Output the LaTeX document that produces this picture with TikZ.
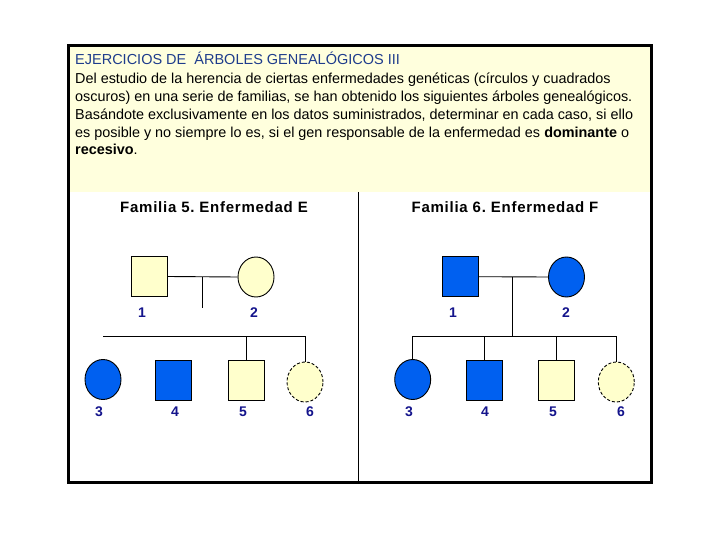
\documentclass[tikz,border=0pt]{standalone}
\usepackage{fontspec}
\setmainfont{Liberation Sans}
\usetikzlibrary{shapes.geometric}
\definecolor{hdrbg}{RGB}{255,255,221}
\definecolor{pale}{RGB}{255,255,204}
\definecolor{sick}{RGB}{0,96,240}
\definecolor{navy}{RGB}{20,20,140}
\definecolor{ttl}{RGB}{30,60,140}
\frenchspacing
\begin{document}
\begin{tikzpicture}[x=1pt,y=-1pt,
  male/.style={draw=black,line width=0.9pt,rectangle,minimum width=36pt,minimum height=40pt,inner sep=0pt},
  female/.style={draw=black,line width=0.9pt,ellipse,minimum width=36pt,minimum height=40pt,inner sep=0pt},
  carrier/.style={female,densely dashed},
  aff/.style={fill=sick},
  unaff/.style={fill=pale},
  num/.style={font=\fontsize{14}{16}\selectfont\bfseries,text=navy,anchor=base,inner sep=0pt},
  txt/.style={font=\fontsize{14.4}{16}\selectfont,anchor=base west,inner sep=0pt},
  head/.style={font=\fontsize{15}{16}\selectfont\bfseries\addfontfeature{LetterSpace=5},anchor=base,inner sep=0pt},
  link/.style={draw=black,line width=0.9pt}]
\useasboundingbox (0,0) rectangle (720,540);
\fill[white] (0,0) rectangle (720,540);
% header
\fill[hdrbg] (68.5,45.5) rectangle (651.5,192);
\draw[line width=1pt] (358,192) -- (358,482.5);
\draw[line width=3pt] (68.5,45.5) rectangle (651.5,482.5);
\node[txt,text=ttl,font=\fontsize{14.5}{16}\selectfont] (title) at (75,65) {EJERCICIOS DE\ \ ÁRBOLES GENEALÓGICOS III};
\node[txt] (l1) at (75,84) {Del estudio de la herencia de ciertas enfermedades genéticas (círculos y cuadrados};
\node[txt] (l2) at (75,102) {oscuros) en una serie de familias, se han obtenido los siguientes árboles genealógicos.};
\node[txt] (l3) at (75,120) {Basándote exclusivamente en los datos suministrados, determinar en cada caso, si ello};
\node[txt] (l4) at (75,138) {es posible y no siempre lo es, si el gen responsable de la enfermedad es \textbf{dominante} o};
\node[txt] (l5) at (75,155) {\textbf{recesivo}.};
% headings
\node[head] (h5) at (214,212) {Familia 5. Enfermedad E};
\node[head] (h6) at (505,212) {Familia 6. Enfermedad F};
% Family 5
\node[male,unaff] (a1) at (149,276.5) {};
\node[female,unaff] (a2) at (256,277) {};
\coordinate (am) at (202,277);
\coordinate (ad) at (202,308);
\draw[link] (a1.east) -- (a2.west);
\draw[link] (am) -- (ad);
\node[female,aff] (a3) at (103,379.5) {};
\node[male,aff] (a4) at (173,380.5) {};
\node[male,unaff] (a5) at (246,380.5) {};
\node[carrier,unaff] (a6) at (305,382) {};
\coordinate (asl) at (103,336);
\coordinate (asr) at (305,336);
\draw[link] (asl) -- (asr);
\draw[link] (a5.north |- asl) -- (a5.north);
\draw[link] (asr) -- (a6.north);
\node[num] (n1a) at (142,317) {1};
\node[num] (n2a) at (254,317) {2};
\node[num] (n3a) at (99,416.5) {3};
\node[num] (n4a) at (175,416.5) {4};
\node[num] (n5a) at (243,416.5) {5};
\node[num] (n6a) at (310,416.5) {6};
% Family 6
\node[male,aff] (b1) at (460.5,276.7) {};
\node[female,aff] (b2) at (566.5,277) {};
\coordinate (bm) at (512.5,277);
\draw[link] (b1.east) -- (b2.west);
\node[female,aff] (b3) at (412.7,379.5) {};
\node[male,aff] (b4) at (484,380.5) {};
\node[male,unaff] (b5) at (556.4,380.5) {};
\node[carrier,unaff] (b6) at (616.3,382) {};
\coordinate (bsl) at (412.7,336);
\coordinate (bsr) at (616.3,336);
\coordinate (bsm) at (512.5,336);
\draw[link] (bm) -- (bsm);
\draw[link] (bsl) -- (bsr);
\draw[link] (bsl) -- (b3.north);
\draw[link] (b4.north |- bsl) -- (b4.north);
\draw[link] (b5.north |- bsl) -- (b5.north);
\draw[link] (bsr) -- (b6.north);
\node[num] (n1b) at (453,317) {1};
\node[num] (n2b) at (566,317) {2};
\node[num] (n3b) at (409,416.5) {3};
\node[num] (n4b) at (485,416.5) {4};
\node[num] (n5b) at (553,416.5) {5};
\node[num] (n6b) at (621,416.5) {6};
\end{tikzpicture}
\end{document}
